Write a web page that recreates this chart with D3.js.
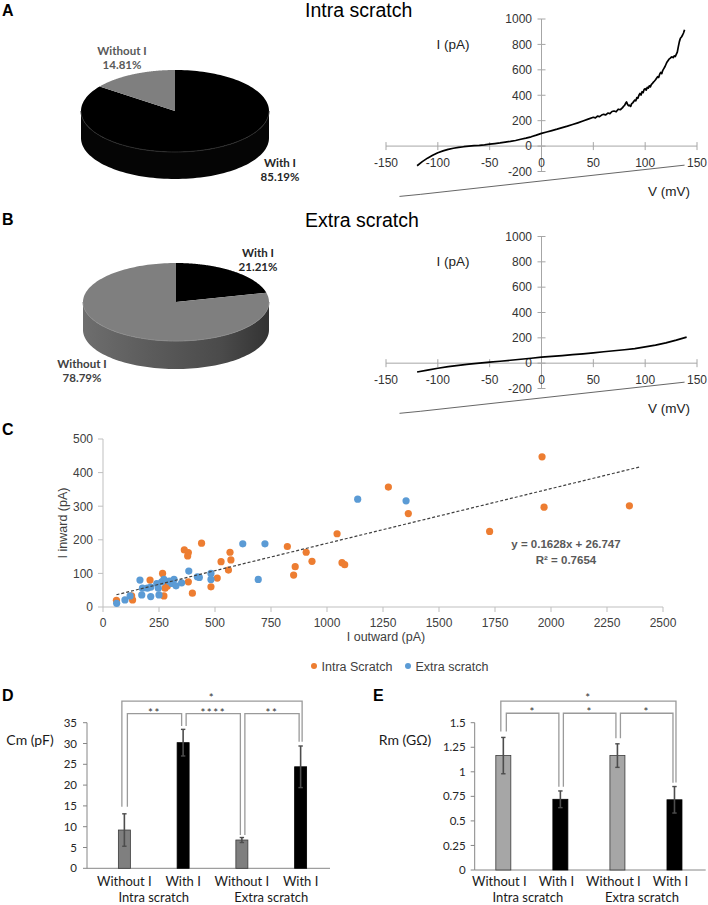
<!DOCTYPE html>
<html><head><meta charset="utf-8">
<script src="https://cdn.jsdelivr.net/npm/d3@7"></script>
<style>body{margin:0;background:#fff}svg{display:block}</style>
</head><body>
<svg id="c" width="708" height="905"></svg>
<script>
// ---------------- DATA ----------------
const pieCategories = ["With I", "Without I"];
const pieA = [85.19, 14.81];
const pieB = [21.21, 78.79];
const pieLabelsA = ["85.19%", "14.81%"];
const pieLabelsB = ["21.21%", "78.79%"];

const ivTitles = ["Intra scratch", "Extra scratch"];
const ivTicksX = [-150, -100, -50, 0, 50, 100, 150];
const ivTicksY = [-200, 0, 200, 400, 600, 800, 1000];
// [V (mV), I (pA)]
const ivA = [[-120,-155],[-115,-122],[-110,-95],[-105,-72],[-100,-52],[-95,-38],[-90,-26],[-85,-17],[-80,-10],[-75,-5],[-70,-1],[-65,3],[-60,6],[-55,10],[-50,15],[-45,20],[-40,25],[-35,31],[-30,37],[-25,44],[-20,54],[-15,63],[-10,73],[-5,86],[0,100],[5,111],[10,122],[15,133],[20,145],[25,157],[30,170],[35,183],[40,197],[45,212],[50,227],[52,222],[54,236],[56,232],[58,244],[60,250],[62,246],[64,260],[66,256],[68,272],[70,276],[72,270],[74,290],[76,286],[78,300],[79,312],[80,318],[81,335],[82,348],[83,328],[84,318],[85,322],[86,312],[87,334],[88,340],[90,362],[91,356],[92,382],[93,376],[94,400],[95,414],[96,402],[97,428],[98,420],[99,446],[100,452],[101,440],[102,462],[103,456],[104,474],[105,466],[106,486],[107,492],[108,504],[109,512],[110,522],[111,534],[112,546],[113,540],[114,566],[115,580],[116,570],[117,596],[118,610],[119,624],[120,642],[121,660],[122,672],[123,684],[124,690],[125,698],[126,702],[127,696],[128,710],[129,704],[130,722],[131,740],[132,782],[133,822],[134,848],[135,858],[136,872],[137,890],[138,915]];
const ivB = [[-120,-70],[-110,-55],[-100,-40],[-90,-28],[-80,-17],[-70,-8],[-60,0],[-50,8],[-40,15],[-30,23],[-20,31],[-10,39],[0,47],[10,53],[20,60],[30,67],[40,74],[50,82],[60,90],[70,98],[80,106],[90,115],[100,128],[110,142],[120,160],[130,182],[140,206]];
const sweepTrace = [[-137,-396],[-117,-380],[138,-150]];

const scatterTicksX = [0,250,500,750,1000,1250,1500,1750,2000,2250,2500];
const scatterTicksY = [0,100,200,300,400,500];
const seriesNames = ["Intra Scratch", "Extra scratch"];
// [I outward, I inward]
const intraScatter = [[60,20],[128,33],[132,21],[210,80],[266,100],[272,33],[277,56],[287,62],[363,170],[381,162],[378,152],[440,190],[381,75],[399,41],[482,60],[510,86],[527,135],[567,163],[571,140],[560,110],[823,180],[851,95],[858,120],[907,163],[933,136],[1045,218],[1067,132],[1079,126],[1274,357],[1363,278],[1960,447],[1969,297],[1726,225],[2350,301]];
const extraScatter = [[61,11],[98,21],[121,33],[165,80],[176,56],[173,36],[198,56],[213,59],[213,31],[240,70],[247,56],[250,36],[262,75],[272,82],[296,77],[307,70],[317,82],[326,63],[351,72],[383,107],[421,90],[430,88],[482,100],[482,82],[624,188],[723,188],[693,82],[1137,321],[1353,316]];
const trendSlope = 0.1628, trendIntercept = 26.747;
const trendRange = [60, 2400];
const trendText = ["y = 0.1628x + 26.747", "R² = 0.7654"];

const barCategories = ["Without I", "With I", "Without I", "With I"];
const groupLabels = ["Intra scratch", "Extra scratch"];
const cmMeans = [9.2, 30.2, 6.8, 24.4];
const cmErr = [3.9, 3.2, 0.6, 5.0];
const cmTicks = [0, 5, 10, 15, 20, 25, 30, 35];
const rmMeans = [1.165, 0.72, 1.165, 0.715];
const rmErr = [0.185, 0.085, 0.12, 0.135];
const rmTicks = [0, 0.25, 0.5, 0.75, 1, 1.25, 1.5];
// brackets: [from bar, to bar, level, end at from, end at to, label]
const cmBrackets = [[0,3,40.2,14.8,30.4,"*"],[0,1,37.2,14.8,34.2,"**"],[1,2,37.2,34.2,8.0,"****"],[2,3,37.2,8.0,30.4,"**"]];
const rmBrackets = [[0,3,1.72,1.41,0.89,"*"],[0,1,1.596,1.41,0.848,"*"],[1,2,1.596,0.848,1.341,"*"],[2,3,1.596,1.341,0.889,"*"]];

// ---------------- DRAW ----------------
const svg = d3.select("#c");
const ARIAL = "'Liberation Sans', Arial, sans-serif";
const CAL = "Lato, 'Open Sans', sans-serif";
const defs = svg.append("defs");

function panelLabel(t, x, y) {
  svg.append("text").attr("x", x).attr("y", y).text(t)
    .attr("font-family", ARIAL).attr("font-weight", "bold").attr("font-size", 16).attr("fill", "#000");
}
panelLabel("A", 2, 16); panelLabel("B", 2, 225); panelLabel("C", 2, 435);
panelLabel("D", 2, 701); panelLabel("E", 373, 701);

// ---- 3D pies ----
const gradB = defs.append("linearGradient").attr("id", "sideB").attr("gradientUnits", "userSpaceOnUse")
  .attr("x1", 83).attr("x2", 269).attr("y1", 0).attr("y2", 0);
[[0,"#6e6e6e"],[0.35,"#5c5c5c"],[0.75,"#4a4a4a"],[1,"#333"]].forEach(s => gradB.append("stop").attr("offset", s[0]).attr("stop-color", s[1]));

function pie3d(values, cx, cy, rx, ry, depth, tops, sides, rim) {
  const g = svg.append("g");
  const arcs = d3.pie().sort(null)(values);
  const pt = (a, dy) => [cx + rx * Math.sin(a), cy - ry * Math.cos(a) + (dy || 0)];
  arcs.forEach((d, i) => {
    const s = Math.max(d.startAngle, Math.PI / 2), e = Math.min(d.endAngle, 3 * Math.PI / 2);
    if (e <= s) return;
    const top = [], bot = [];
    for (let k = 0; k <= 80; k++) { const a = s + (e - s) * k / 80; top.push(pt(a)); bot.push(pt(a, depth)); }
    g.append("path").attr("d", d3.line()(top.concat(bot.reverse())) + "Z").attr("fill", sides[i]);
  });
  arcs.forEach((d, i) => {
    const pts = [[cx, cy]];
    for (let k = 0; k <= 160; k++) { const a = d.startAngle + (d.endAngle - d.startAngle) * k / 160; pts.push(pt(a)); }
    g.append("path").attr("d", d3.line()(pts) + "Z").attr("fill", tops[i]);
  });
  const rimPts = [];
  for (let k = 0; k <= 80; k++) { const a = Math.PI / 2 + Math.PI * k / 80; rimPts.push(pt(a)); }
  g.append("path").attr("d", d3.line()(rimPts)).attr("fill", "none").attr("stroke", rim).attr("stroke-width", 1);
  return g;
}
pie3d(pieA, 175, 111, 94, 41, 27, ["#000", "#7f7f7f"], ["#050505", "#333"], "#2a2a2a");
pie3d(pieB, 176, 302, 93, 39, 28, ["#000", "#7f7f7f"], ["#000", "url(#sideB)"], "#8a8a8a");

function pieLabel(name, pct, x, y, color) {
  const t = svg.append("text").attr("text-anchor", "middle").attr("font-family", CAL)
    .attr("font-weight", "bold").attr("font-size", 11.5).attr("fill", color);
  t.append("tspan").attr("x", x).attr("y", y).text(name);
  t.append("tspan").attr("x", x).attr("y", y + 14).text(pct);
}
pieLabel(pieCategories[1], pieLabelsA[1], 122, 55, "#595959");
pieLabel(pieCategories[0], pieLabelsA[0], 280, 167, "#262626");
pieLabel(pieCategories[0], pieLabelsB[0], 258, 257, "#262626");
pieLabel(pieCategories[1], pieLabelsB[1], 82, 368, "#404040");

// ---- IV plots ----
function ivPlot(data, title, titleY, yTopPx, yBotPx) {
  const g = svg.append("g");
  const x = d3.scaleLinear().domain([-150, 150]).range([386, 697]);
  const y = d3.scaleLinear().domain([-200, 1000]).range([yBotPx, yTopPx]);
  const ax = "#a6a6a6";
  g.append("text").attr("x", 305).attr("y", titleY).text(title)
    .attr("font-family", ARIAL).attr("font-size", 19.5).attr("fill", "#000");
  g.append("line").attr("x1", x(-150)).attr("x2", x(150)).attr("y1", y(0)).attr("y2", y(0)).attr("stroke", ax);
  g.append("line").attr("x1", x(0)).attr("x2", x(0)).attr("y1", y(-200)).attr("y2", y(1000)).attr("stroke", ax);
  ivTicksX.forEach(v => {
    g.append("line").attr("x1", x(v)).attr("x2", x(v)).attr("y1", y(0) - 4).attr("y2", y(0) + 4).attr("stroke", ax);
    g.append("text").attr("x", x(v)).attr("y", y(0) + 20.5).attr("text-anchor", "middle").text(v)
      .attr("font-family", ARIAL).attr("font-size", 12).attr("fill", "#333");
  });
  ivTicksY.forEach(v => {
    g.append("line").attr("x1", x(0) - 4).attr("x2", x(0) + 4).attr("y1", y(v)).attr("y2", y(v)).attr("stroke", ax);
    g.append("text").attr("x", 532).attr("y", y(v)).attr("dy", "0.36em").attr("text-anchor", "end").text(v)
      .attr("font-family", ARIAL).attr("font-size", 12).attr("fill", "#333");
  });
  g.append("text").attr("x", 453).attr("y", y(800) + 4.5).attr("text-anchor", "middle").text("I (pA)")
    .attr("font-family", ARIAL).attr("font-size", 13.5).attr("fill", "#222");
  g.append("text").attr("x", 669).attr("y", y(-200) + 24.5).attr("text-anchor", "middle").text("V (mV)")
    .attr("font-family", ARIAL).attr("font-size", 13.5).attr("fill", "#222");
  const line = d3.line().x(d => x(d[0])).y(d => y(d[1]));
  g.append("path").attr("d", line(sweepTrace)).attr("fill", "none").attr("stroke", "#555").attr("stroke-width", 0.9);
  g.append("path").attr("d", line(data)).attr("fill", "none").attr("stroke", "#000").attr("stroke-width", 1.7)
    .attr("stroke-linejoin", "round");
}
ivPlot(ivA, ivTitles[0], 17, 19, 171.5);
ivPlot(ivB, ivTitles[1], 227, 236.5, 388.5);

// ---- Scatter ----
(function () {
  const g = svg.append("g");
  const x = d3.scaleLinear().domain([0, 2500]).range([103, 663]);
  const y = d3.scaleLinear().domain([0, 500]).range([607, 439]);
  const ax = "#bfbfbf";
  g.append("line").attr("x1", x(0)).attr("x2", x(2500)).attr("y1", y(0)).attr("y2", y(0)).attr("stroke", ax);
  g.append("line").attr("x1", x(0)).attr("x2", x(0)).attr("y1", y(0)).attr("y2", y(500)).attr("stroke", ax);
  scatterTicksX.forEach(v => {
    g.append("line").attr("x1", x(v)).attr("x2", x(v)).attr("y1", y(0)).attr("y2", y(0) + 5).attr("stroke", ax);
    g.append("text").attr("x", x(v)).attr("y", y(0) + 19.5).attr("text-anchor", "middle").text(v)
      .attr("font-family", ARIAL).attr("font-size", 12).attr("fill", "#404040");
  });
  scatterTicksY.forEach(v => {
    g.append("line").attr("x1", x(0) - 5).attr("x2", x(0)).attr("y1", y(v)).attr("y2", y(v)).attr("stroke", ax);
    g.append("text").attr("x", 93).attr("y", y(v)).attr("dy", "0.36em").attr("text-anchor", "end").text(v)
      .attr("font-family", ARIAL).attr("font-size", 12).attr("fill", "#404040");
  });
  g.append("text").attr("transform", "translate(67,523) rotate(-90)").attr("text-anchor", "middle")
    .text("I inward (pA)").attr("font-family", ARIAL).attr("font-size", 12.5).attr("fill", "#404040");
  g.append("text").attr("x", 386).attr("y", 641).attr("text-anchor", "middle")
    .text("I outward (pA)").attr("font-family", ARIAL).attr("font-size", 12.5).attr("fill", "#404040");
  const colors = ["#ed7d31", "#5b9bd5"];
  [intraScatter, extraScatter].forEach((s, i) => {
    g.append("g").selectAll("circle").data(s).join("circle")
      .attr("cx", d => x(d[0])).attr("cy", d => y(d[1])).attr("r", 3.6).attr("fill", colors[i]);
  });
  g.append("path").attr("d", d3.line()(trendRange.map(v => [x(v), y(trendSlope * v + trendIntercept)])))
    .attr("stroke", "#404040").attr("stroke-width", 1.2).attr("stroke-dasharray", "3,2").attr("fill", "none");
  trendText.forEach((t, i) => g.append("text").attr("x", 566).attr("y", 548 + i * 15.5).attr("text-anchor", "middle")
    .text(t).attr("font-family", ARIAL).attr("font-weight", "bold").attr("font-size", 11.5).attr("fill", "#595959"));
  const lx = [314, 408];
  seriesNames.forEach((n, i) => {
    g.append("circle").attr("cx", lx[i]).attr("cy", 666).attr("r", 3).attr("fill", colors[i]);
    g.append("text").attr("x", lx[i] + 7.5).attr("y", 670.5).text(n)
      .attr("font-family", ARIAL).attr("font-size", 12.5).attr("fill", "#404040");
  });
})();

// ---- Bar panels ----
function barPanel(o) {
  const g = svg.append("g");
  const x = d3.scalePoint().domain(d3.range(4)).range(o.xr).padding(0.5);
  const y = d3.scaleLinear().domain(o.dom).range(o.yr);
  const ax = "#868686";
  g.append("line").attr("x1", o.ax0).attr("x2", o.ax1).attr("y1", y(0)).attr("y2", y(0)).attr("stroke", ax);
  g.append("line").attr("x1", o.ax0).attr("x2", o.ax0).attr("y1", y(0)).attr("y2", y(o.dom[1])).attr("stroke", ax);
  o.ticks.forEach(v => {
    g.append("line").attr("x1", o.ax0 - 4).attr("x2", o.ax0).attr("y1", y(v)).attr("y2", y(v)).attr("stroke", ax);
    g.append("text").attr("x", o.lx).attr("y", y(v)).attr("dy", "0.36em").attr("text-anchor", "end").text(v)
      .attr("font-family", CAL).attr("font-size", 11.5).attr("fill", "#262626");
  });
  g.append("text").attr("x", o.tx).attr("y", 745).attr("text-anchor", "middle").text(o.title)
    .attr("font-family", CAL).attr("font-size", 14).attr("fill", "#1a1a1a");
  o.means.forEach((m, i) => {
    g.append("rect").attr("x", x(i) - o.bw / 2).attr("y", y(m)).attr("width", o.bw).attr("height", y(0) - y(m))
      .attr("fill", i % 2 ? "#000" : o.grey).attr("stroke", i % 2 ? "#000" : "#3a3a3a").attr("stroke-width", 0.8);
    const e = o.errs[i];
    g.append("line").attr("x1", x(i)).attr("x2", x(i)).attr("y1", y(m + e)).attr("y2", y(m - e)).attr("stroke", "#4d4d4d").attr("stroke-width", 1.6);
    [m + e, m - e].forEach(v => g.append("line").attr("x1", x(i) - 2.2).attr("x2", x(i) + 2.2).attr("y1", y(v)).attr("y2", y(v)).attr("stroke", "#4d4d4d").attr("stroke-width", 1.4));
    g.append("text").attr("x", x(i) + o.lshift).attr("y", 886).attr("text-anchor", "middle").text(barCategories[i])
      .attr("font-family", CAL).attr("font-size", 13).attr("fill", "#1a1a1a");
  });
  groupLabels.forEach((t, j) => g.append("text").attr("x", (x(2 * j) + x(2 * j + 1)) / 2 + o.lshift).attr("y", 901.5)
    .attr("text-anchor", "middle").text(t).attr("font-family", CAL).attr("font-size", 13).attr("fill", "#1a1a1a"));
  o.brackets.forEach((b, k) => {
    const top = k === 0;
    const xa = x(b[0]) + (top ? -2.5 : 3), xb = x(b[1]) + (top ? 1.5 : -1.5);
    g.append("path").attr("d", d3.line()([[xa, y(b[3])], [xa, y(b[2])], [xb, y(b[2])], [xb, y(b[4])]]))
      .attr("fill", "none").attr("stroke", "#9a9a9a").attr("stroke-width", 1.3);
    g.append("text").attr("x", (xa + xb) / 2).attr("y", y(b[2]) + (top ? 1 : 3)).attr("text-anchor", "middle").text(b[5])
      .attr("font-family", CAL).attr("font-size", 11.5).attr("fill", "#333").attr("letter-spacing", 1.5);
  });
}
barPanel({ means: cmMeans, errs: cmErr, ticks: cmTicks, dom: [0, 35], yr: [868.3, 722.7], xr: [95, 330],
  ax0: 87, ax1: 330, lx: 77, bw: 12, grey: "#7f7f7f", title: "Cm (pF)", tx: 30, brackets: cmBrackets, lshift: 0 });
barPanel({ means: rmMeans, errs: rmErr, ticks: rmTicks, dom: [0, 1.5], yr: [870, 722.7], xr: [474.8, 703],
  ax0: 474.7, ax1: 705.7, lx: 465.7, bw: 15, grey: "#a6a6a6", title: "Rm (GΩ)", tx: 405, brackets: rmBrackets, lshift: -4 });
</script>
</body></html>
